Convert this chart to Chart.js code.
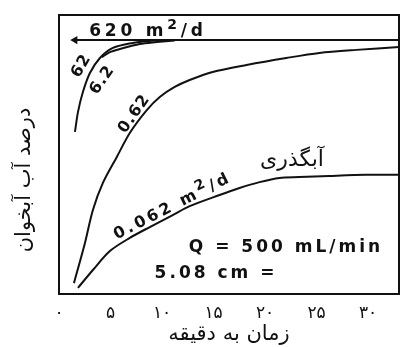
<!DOCTYPE html>
<html>
<head>
<meta charset="utf-8">
<script src="https://cdn.jsdelivr.net/npm/chart.js@4/dist/chart.umd.min.js"></script>
<style>
  html, body { margin: 0; padding: 0; background: #fff; }
  canvas { display: block; }
</style>
</head>
<body>
<canvas id="c" width="405" height="347"></canvas>
<script>
// Time since pumping started (minutes) and share of aquifer water (%) for each transmissivity
const t620 = [1.55, 33];
const v620 = [91.0, 91.0];

const t62 = [1.55, 1.84, 2.32, 3.0, 3.97, 5.23, 7.16, 8.81, 10.26];
const v62 = [58.1, 65.2, 72.4, 79.2, 84.6, 88.2, 90.0, 90.7, 91.0];

const t6_2 = [4.16, 4.94, 5.9, 7.84, 9.49, 11.23];
const v6_2 = [84.9, 86.7, 87.8, 89.6, 90.3, 90.9];

const t0_62 = [1.45, 2.52, 3.29, 4.26, 5.61, 6.87, 8.52, 9.78, 11.23, 12.68, 14.91, 18.2, 22.07, 25.27, 28.85, 33.0];
const v0_62 = [3.9, 18.3, 30.1, 39.8, 49.1, 57.7, 65.9, 70.6, 74.2, 76.7, 79.6, 82.1, 84.6, 86.4, 87.5, 88.5];

const t0_062 = [1.84, 3.29, 4.94, 6.87, 8.81, 11.04, 12.68, 15.59, 17.52, 19.46, 21.39, 23.33, 26.23, 29.8, 33.0];
const v0_062 = [2.2, 8.6, 15.4, 20.1, 24.0, 28.3, 31.5, 35.5, 38.0, 40.1, 41.6, 41.9, 42.3, 42.7, 42.7];

// Axis ticks (Persian digits)
const xTickValues = [0, 5, 10, 15, 20, 25, 30];
const xTickLabels = ['۰', '۵', '۱۰', '۱۵', '۲۰', '۲۵', '۳۰'];

const xTitle = 'زمان به دقیقه';
const yTitle = 'درصد آب آبخوان';
const curveWord = 'آبگذری';

const INK = '#111';
const LATIN = '"DejaVu Sans", "Liberation Sans", sans-serif';
const FARSI = '"DejaVu Sans", sans-serif';

function series(t, v, extra) {
  return Object.assign({
    data: t.map((x, i) => ({ x: x, y: v[i] })),
    borderColor: INK,
    borderWidth: 2,
    pointRadius: 0,
    fill: false,
    tension: 0.3
  }, extra || {});
}

// Text laid out on the chart: curve names and test conditions
const notes = [
  { parts: [['620 m'], ['2', 1], ['/d']], x: 148, y: 30, rot: 0, size: 17, sp: 3.8 },
  { parts: [['62']], x: 80, y: 65, rot: -60, size: 16, sp: 1 },
  { parts: [['6.2']], x: 101, y: 79, rot: -55, size: 16, sp: 1 },
  { parts: [['0.62']], x: 133, y: 113, rot: -55, size: 16, sp: 1 },
  { parts: [['0.062 m'], ['2', 1], ['/d']], x: 172, y: 205, rot: -27, size: 16, sp: 3 },
  { parts: [['Q = 500 mL/min']], x: 286, y: 246, rot: 0, size: 17, sp: 3 },
  { parts: [['5.08 cm =']], x: 216, y: 272, rot: 0, size: 17, sp: 3 }
];

function partWidth(ctx, p, size, sp) {
  ctx.font = 'bold ' + (p[1] ? Math.round(size * 0.85) : size) + 'px ' + LATIN;
  ctx.letterSpacing = sp + 'px';
  return ctx.measureText(p[0]).width;
}

const annotate = {
  id: 'annotate',
  afterDraw(chart) {
    const ctx = chart.ctx;
    const a = chart.chartArea;
    ctx.save();
    // plot frame
    ctx.strokeStyle = INK;
    ctx.lineWidth = 2;
    ctx.strokeRect(a.left, a.top, a.right - a.left, a.bottom - a.top);

    ctx.fillStyle = INK;
    ctx.textBaseline = 'alphabetic';
    ctx.textAlign = 'left';
    notes.forEach(n => {
      const total = n.parts.reduce((s, p) => s + partWidth(ctx, p, n.size, n.sp), 0);
      ctx.save();
      ctx.translate(n.x, n.y);
      ctx.rotate(n.rot * Math.PI / 180);
      let cx = -total / 2;
      const base = n.size * 0.36;
      n.parts.forEach(p => {
        const w = partWidth(ctx, p, n.size, n.sp);
        ctx.fillText(p[0], cx, p[1] ? base - n.size * 0.42 : base);
        cx += w;
      });
      ctx.restore();
    });
    ctx.letterSpacing = '0px';

    // transmissivity caption
    ctx.font = '22px ' + FARSI;
    ctx.textAlign = 'center';
    ctx.textBaseline = 'middle';
    ctx.fillText(curveWord, 292, 160);

    // vertical axis title
    ctx.save();
    ctx.translate(25, 180);
    ctx.rotate(-Math.PI / 2);
    ctx.font = '21px ' + FARSI;
    ctx.fillText(yTitle, 0, 0);
    ctx.restore();
    ctx.restore();
  }
};

new Chart(document.getElementById('c'), {
  type: 'line',
  data: {
    datasets: [
      series(t620, v620, {
        pointStyle: 'triangle',
        pointRotation: -90,
        pointRadius: [2.8, 0],
        pointBackgroundColor: INK,
        pointBorderColor: INK,
        tension: 0
      }),
      series(t62, v62),
      series(t6_2, v6_2),
      series(t0_62, v0_62),
      series(t0_062, v0_062)
    ]
  },
  options: {
    responsive: false,
    animation: false,
    events: [],
    layout: { padding: { left: 59, right: 5, top: 15, bottom: 0 } },
    plugins: { legend: { display: false }, tooltip: { enabled: false } },
    scales: {
      x: {
        type: 'linear',
        min: 0,
        max: 33,
        afterBuildTicks: s => { s.ticks = xTickValues.map(v => ({ value: v })); },
        afterFit: s => { s.height = 53; },
        grid: { display: false, drawTicks: false },
        border: { display: false },
        ticks: {
          padding: 9,
          autoSkip: false,
          maxRotation: 0,
          color: INK,
          font: { family: FARSI, size: 17 },
          callback: (v, i) => xTickLabels[i]
        },
        title: {
          display: true,
          text: xTitle,
          color: INK,
          font: { family: FARSI, size: 21 },
          padding: { top: 0, bottom: 0 }
        }
      },
      y: { display: false, min: 0, max: 100 }
    }
  },
  plugins: [annotate]
});
</script>
</body>
</html>
